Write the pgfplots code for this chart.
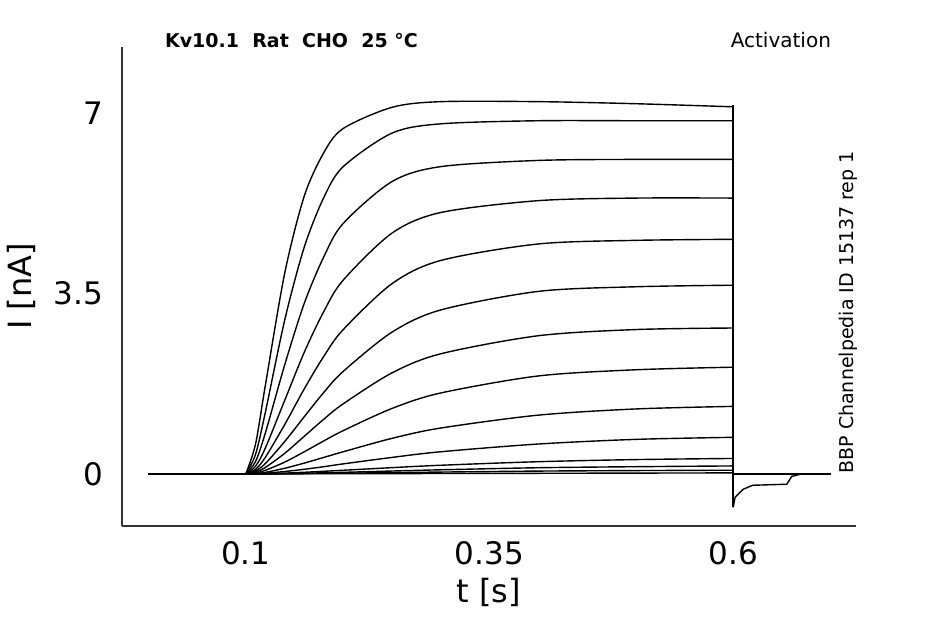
\documentclass[border=0pt]{standalone}
\usepackage{fontspec}
\setmainfont{DejaVu Sans}
\usepackage{pgfplots}
\pgfplotsset{compat=1.18}
\begin{document}
\begin{tikzpicture}
\begin{axis}[
  scale only axis, width=367pt, height=239.5pt,
  xmin=-0.027, xmax=0.726, ymin=-1.01, ymax=8.28,
  axis x line*=bottom, axis y line*=left,
  xtick={0.1,0.35,0.6}, xticklabels={0.1,0.35,0.6},
  ytick={0,3.5,7}, yticklabels={0,3.5,7},
  major tick length=0pt,
  /pgf/number format/assume math mode=true,
  tick label style={font=\fontsize{15.5}{18}\selectfont},
  xticklabel style={yshift=-4pt},
  yticklabel style={xshift=-6pt},
  label style={font=\fontsize{16}{18}\selectfont},
  xlabel={t [s]}, ylabel={I [nA]},
  ylabel style={yshift=2pt},
  axis line style={line width=0.6pt, black!80},
  clip=false,
  cycle list={{black,solid}},
  every axis plot/.append style={black, solid, line width=0.7pt, no marks},
]
\path (rel axis cs:0,0) ++(-61pt,-49pt) rectangle ++(472.5pt,312pt);
\addplot coordinates {(0,0) (0.1,0)};
\addplot coordinates {(0.6,0) (0.7,0)};
\addplot coordinates {(0.6,7.15) (0.6,-0.65)};
\addplot coordinates {(0.6,-0.65) (0.602,-0.45) (0.61,-0.3) (0.62,-0.22) (0.655,-0.2) (0.66,-0.05) (0.67,0)};
\addplot+[smooth] coordinates {(0.1,0) (0.11,0.58) (0.12,1.71) (0.14,3.90) (0.16,5.39) (0.18,6.23) (0.2,6.70) (0.25,7.11) (0.3,7.22) (0.4,7.22) (0.5,7.18) (0.6,7.12)};
\addplot+[smooth] coordinates {(0.1,0) (0.11,0.38) (0.12,1.19) (0.14,2.99) (0.16,4.40) (0.18,5.36) (0.2,5.96) (0.25,6.61) (0.3,6.79) (0.4,6.85) (0.5,6.85) (0.6,6.85)};
\addplot+[smooth] coordinates {(0.1,0) (0.11,0.24) (0.12,0.79) (0.14,2.12) (0.16,3.31) (0.18,4.21) (0.2,4.86) (0.25,5.67) (0.3,5.96) (0.4,6.08) (0.5,6.1) (0.6,6.1)};
\addplot+[smooth] coordinates {(0.1,0) (0.11,0.15) (0.12,0.50) (0.14,1.43) (0.16,2.36) (0.18,3.15) (0.2,3.76) (0.25,4.67) (0.3,5.07) (0.4,5.30) (0.5,5.35) (0.6,5.35)};
\addplot+[smooth] coordinates {(0.1,0) (0.11,0.09) (0.12,0.32) (0.14,0.96) (0.16,1.65) (0.18,2.28) (0.2,2.80) (0.25,3.69) (0.3,4.14) (0.4,4.46) (0.5,4.53) (0.6,4.55)};
\addplot+[smooth] coordinates {(0.1,0) (0.11,0.06) (0.12,0.20) (0.14,0.63) (0.16,1.11) (0.18,1.58) (0.2,1.99) (0.25,2.75) (0.3,3.18) (0.4,3.54) (0.5,3.63) (0.6,3.66)};
\addplot+[smooth] coordinates {(0.1,0) (0.11,0.035) (0.12,0.125) (0.14,0.40) (0.16,0.73) (0.18,1.06) (0.2,1.36) (0.25,1.96) (0.3,2.33) (0.4,2.68) (0.5,2.80) (0.6,2.83)};
\addplot+[smooth] coordinates {(0.1,0) (0.11,0.02) (0.12,0.07) (0.14,0.23) (0.16,0.43) (0.18,0.64) (0.2,0.84) (0.25,1.27) (0.3,1.57) (0.4,1.90) (0.5,2.02) (0.6,2.07)};
\addplot+[smooth] coordinates {(0.1,0) (0.11,0.01) (0.12,0.03) (0.14,0.11) (0.16,0.21) (0.18,0.32) (0.2,0.43) (0.25,0.69) (0.3,0.89) (0.4,1.14) (0.5,1.26) (0.6,1.31)};
\addplot+[smooth] coordinates {(0.1,0) (0.11,0.004) (0.12,0.013) (0.14,0.047) (0.16,0.09) (0.18,0.14) (0.2,0.195) (0.25,0.32) (0.3,0.43) (0.4,0.58) (0.5,0.67) (0.6,0.71)};
\addplot+[smooth] coordinates {(0.1,0) (0.11,0.001) (0.12,0.005) (0.14,0.016) (0.16,0.032) (0.18,0.051) (0.2,0.071) (0.25,0.122) (0.3,0.168) (0.4,0.237) (0.5,0.278) (0.6,0.30)};
\addplot+[smooth] coordinates {(0.1,0) (0.12,0.002) (0.14,0.007) (0.16,0.014) (0.18,0.022) (0.2,0.031) (0.25,0.056) (0.3,0.08) (0.4,0.12) (0.5,0.14) (0.6,0.155)};
\addplot+[smooth] coordinates {(0.1,0) (0.12,0.001) (0.14,0.003) (0.16,0.006) (0.18,0.01) (0.2,0.014) (0.25,0.025) (0.3,0.036) (0.4,0.055) (0.5,0.065) (0.6,0.072)};
\addplot coordinates {(0.1,0) (0.6,0.02)};
\node[anchor=base west, font=\bfseries\fontsize{9.5}{11}\selectfont] at ([xshift=18pt,yshift=-0.5pt]rel axis cs:0,1) {Kv10.1\ \ Rat\ \ CHO\ \ 25 °C};
\node[anchor=base east, font=\fontsize{10}{12}\selectfont] at ([xshift=-9pt,yshift=-0.5pt]rel axis cs:1,1) {Activation};
\node[rotate=90, anchor=west, font=\fontsize{9.5}{11}\selectfont, inner sep=0pt] at (axis cs:0.718,0) {BBP Channelpedia ID 15137 rep 1};
\end{axis}
\end{tikzpicture}
\end{document}
